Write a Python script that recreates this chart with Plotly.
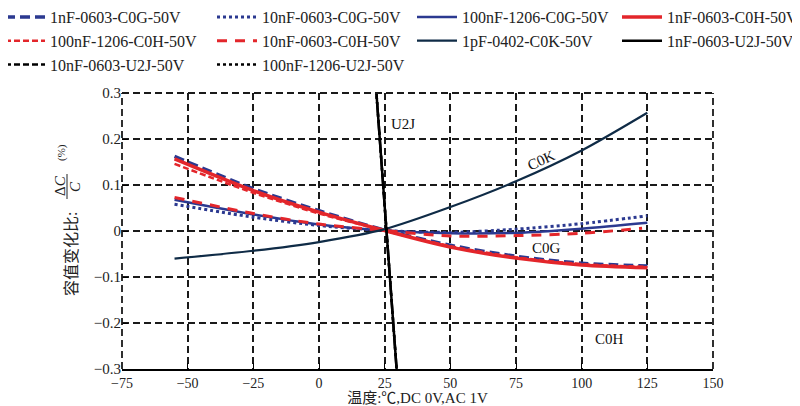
import plotly.graph_objects as go

temps = [-55, -25, 0, 25, 50, 75, 100, 125]
c0g_1nf = [0.162, 0.092, 0.044, 0.002, -0.031, -0.055, -0.070, -0.076]
c0g_10nf = [0.058, 0.030, 0.012, 0.001, -0.003, 0.004, 0.016, 0.033]
c0g_100nf = [0.068, 0.036, 0.014, 0.001, -0.005, -0.004, 0.005, 0.018]
c0h_1nf = [0.157, 0.088, 0.041, 0.001, -0.035, -0.059, -0.074, -0.080]
c0h_100nf = [0.146, 0.083, 0.038, 0.001, -0.033, -0.057, -0.072, -0.078]
temps_c0h_10nf = [-55, -25, 0, 25, 50, 75, 100, 123]
c0h_10nf = [0.073, 0.038, 0.015, 0.001, -0.011, -0.010, -0.005, 0.006]
c0k_1pf = [-0.060, -0.043, -0.024, 0.004, 0.052, 0.108, 0.175, 0.257]
temps_u2j = [21.6, 25.7, 29.8]
u2j = [0.32, 0.0, -0.32]

BLUE = "#2b3990"
RED = "#e3262b"
NAVY = "#0f2b46"
BLACK = "#000000"
GRID = "#1a1a1a"

FONT = "Liberation Serif, Times New Roman, Noto Sans CJK SC, serif"

# (name, x, y, color, dash, width, legend column)
series = [
    ("1nF-0603-C0G-50V", temps, c0g_1nf, BLUE, "10px,5px", 3.5, "legend"),
    ("10nF-0603-C0G-50V", temps, c0g_10nf, BLUE, "dot", 3, "legend2"),
    ("100nF-1206-C0G-50V", temps, c0g_100nf, BLUE, "solid", 2.5, "legend3"),
    ("1nF-0603-C0H-50V", temps, c0h_1nf, RED, "solid", 3.5, "legend4"),
    ("100nF-1206-C0H-50V", temps, c0h_100nf, RED, "6px,3px", 2.5, "legend"),
    ("10nF-0603-C0H-50V", temps_c0h_10nf, c0h_10nf, RED, "10px,8px", 3, "legend2"),
    ("1pF-0402-C0K-50V", temps, c0k_1pf, NAVY, "solid", 2.2, "legend3"),
    ("1nF-0603-U2J-50V", temps_u2j, u2j, BLACK, "solid", 2.5, "legend4"),
    ("10nF-0603-U2J-50V", temps_u2j, u2j, BLACK, "6px,3px", 2.5, "legend"),
    ("100nF-1206-U2J-50V", temps_u2j, u2j, BLACK, "dot", 2.5, "legend2"),
]

fig = go.Figure()
for name, xs, ys, color, dash, w, lg in series:
    fig.add_trace(go.Scatter(
        x=xs, y=ys, name=name, mode="lines", legend=lg,
        line=dict(color=color, dash=dash, width=w, shape="spline", smoothing=0.8),
    ))

x_ticks = [-75, -50, -25, 0, 25, 50, 75, 100, 125, 150]
y_ticks = [-0.3, -0.2, -0.1, 0, 0.1, 0.2, 0.3]
y_tick_labels = ["\u22120.3", "\u22120.2", "\u22120.1", "0", "0.1", "0.2", "0.3"]
x_tick_labels = ["\u221275", "\u221250", "\u221225", "0", "25", "50", "75", "100", "125", "150"]


# the page body has an 8px margin: map window pixels to paper coordinates
def px(xp):
    return (xp - 122) / 591


def py(yp):
    return (369 - yp) / 276


def legend_at(xr):
    return dict(
        orientation="v", xref="paper", yref="paper",
        x=px(xr), y=py(0), xanchor="left", yanchor="top",
        font=dict(size=16, family=FONT, color="#222"),
        itemwidth=40, tracegroupgap=0, bgcolor="rgba(0,0,0,0)",
    )


fig.update_layout(
    width=792, height=398,
    margin=dict(l=114, r=87, t=85, b=37, autoexpand=False),
    paper_bgcolor="white", plot_bgcolor="white",
    font=dict(family=FONT, size=15, color="#222"),
    showlegend=True,
    legend=legend_at(0),
    legend2=legend_at(212),
    legend3=legend_at(412),
    legend4=legend_at(617),
    xaxis=dict(
        range=[-75, 150], tickvals=x_ticks, ticktext=x_tick_labels,
        showgrid=True, gridcolor=GRID, griddash="7px,4px", gridwidth=1.8,
        showline=True, linecolor="black", linewidth=2, mirror=False,
        ticks="inside", ticklen=6, tickcolor="black", zeroline=False,
        tickfont=dict(size=14),
        title=dict(text="温度:℃,DC 0V,AC 1V", font=dict(size=15), standoff=0),
    ),
    yaxis=dict(
        range=[-0.3, 0.3], tickvals=y_ticks, ticktext=y_tick_labels,
        showgrid=True, gridcolor=GRID, griddash="7px,4px", gridwidth=1.8,
        showline=False, ticks="inside", ticklen=6, tickcolor="black",
        zeroline=False, tickfont=dict(size=15),
    ),
)

# dashed border on left, right and top
for x0, y0, x1, y1 in [(0, 0, 0, 1), (1, 0, 1, 1), (0, 1, 1, 1)]:
    fig.add_shape(type="line", xref="paper", yref="paper", x0=x0, y0=y0, x1=x1, y1=y1,
                  line=dict(color=GRID, width=1.8, dash="7px,4px"))

# family labels
labels = [("U2J", 31.9, 0.233, 0), ("C0K", 84.8, 0.154, -25), ("C0G", 86.7, -0.037, 0), ("C0H", 110.7, -0.235, 0)]
for txt, lx, ly, ang in labels:
    fig.add_annotation(x=lx, y=ly, text=txt, showarrow=False, textangle=ang,
                       font=dict(size=15, family=FONT, color="#111"))

# y-axis title built from pieces (fraction ΔC / C)
common = dict(xref="paper", yref="paper", textangle=-90, showarrow=False,
              xanchor="center", yanchor="middle")
fig.add_annotation(x=px(72), y=py(254), text="容值变化比:",
                   font=dict(size=16, family=FONT, color="#222"), **common)
fig.add_annotation(x=px(60), y=py(186), text="Δ<i>C</i>",
                   font=dict(size=15, family=FONT, color="#222"), **common)
fig.add_annotation(x=px(75), y=py(187), text="<i>C</i>",
                   font=dict(size=15, family=FONT, color="#222"), **common)
fig.add_annotation(x=px(61), y=py(153), text="(%)",
                   font=dict(size=11, family=FONT, color="#222"), **common)
fig.add_shape(type="line", xref="paper", yref="paper", x0=px(67), x1=px(67), y0=py(174), y1=py(199),
              line=dict(color="#222", width=1))

fig.write_html("out.html")
